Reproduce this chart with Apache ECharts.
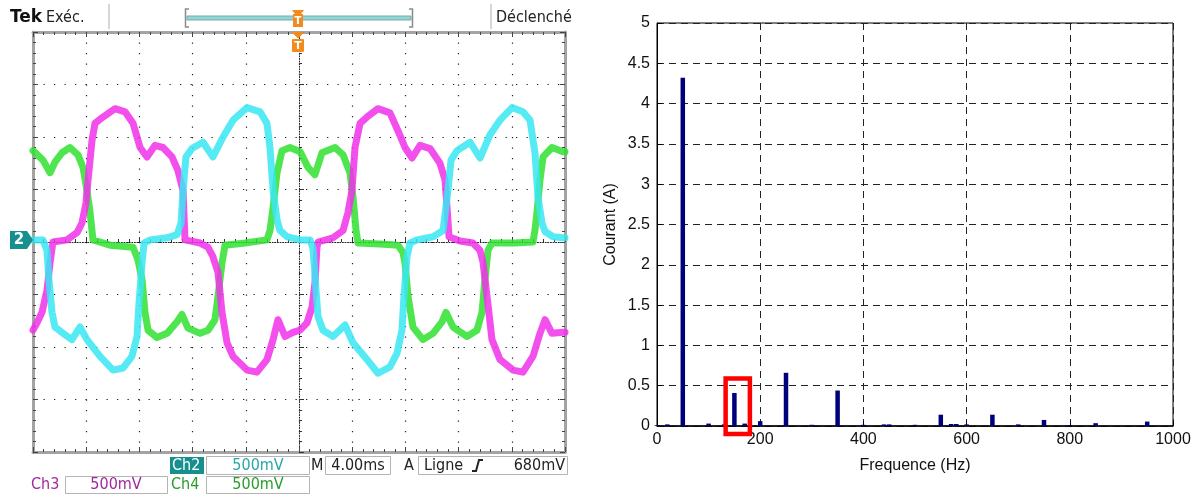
<!DOCTYPE html>
<html>
<head>
<meta charset="utf-8">
<script src="https://cdn.jsdelivr.net/npm/echarts@6/dist/echarts.min.js"></script>
<style>
html,body{margin:0;padding:0;background:#fff;}
#c{width:1202px;height:494px;}
</style>
</head>
<body>
<div id="c"></div>
<script>
// ---------- Oscilloscope traces: [time in ms from left edge of screen, volts] (500 mV/div) ----------
const ch2Cyan = [[0,0.02],[0.75,0.02],[1.05,-0.08],[1.20,-0.36],[1.43,-0.67],[1.65,-0.81],[2.26,-0.87],[2.93,-0.93],[3.53,-0.81],[4.06,-0.93],[5.04,-1.09],[6.02,-1.22],[6.77,-1.20],[7.44,-1.09],[7.82,-0.90],[7.97,-0.58],[8.20,-0.20],[8.35,-0.01],[8.80,0.02],[10.08,0.04],[10.83,0.07],[11.13,0.18],[11.28,0.49],[11.50,0.81],[11.95,0.89],[12.78,0.95],[13.53,0.81],[14.29,1.00],[15.04,1.16],[16.09,1.28],[17.07,1.24],[17.59,1.13],[17.82,0.90],[18.05,0.49],[18.35,0.21],[18.57,0.11],[19.10,0.05],[20.08,0.02],[20.83,0.02],[21.05,-0.06],[21.28,-0.46],[21.43,-0.71],[21.80,-0.84],[22.56,-0.90],[23.46,-0.79],[24.06,-0.96],[25.11,-1.12],[25.94,-1.25],[26.84,-1.19],[27.37,-1.06],[27.74,-0.84],[27.89,-0.52],[28.12,-0.14],[28.35,-0.01],[28.87,0.02],[30.08,0.05],[30.83,0.11],[31.20,0.49],[31.43,0.78],[31.88,0.87],[32.86,0.95],[33.61,0.80],[34.36,1.02],[35.11,1.16],[36.02,1.28],[36.84,1.24],[37.37,1.16],[37.74,0.85],[37.97,0.43],[38.27,0.18],[38.50,0.10],[39.10,0.05],[39.85,0.04],[40,0.04]];
const ch3Magenta = [[0,-0.84],[0.30,-0.77],[0.68,-0.67],[1.05,-0.46],[1.28,-0.20],[1.50,0.00],[2.56,0.02],[3.31,0.09],[3.68,0.18],[3.98,0.37],[4.14,0.59],[4.44,0.97],[4.66,1.13],[5.26,1.19],[6.17,1.27],[6.92,1.24],[7.52,1.13],[8.05,0.90],[8.57,0.81],[9.17,0.92],[9.77,0.90],[10.45,0.81],[10.90,0.68],[11.28,0.49],[11.43,0.02],[12.56,-0.01],[13.16,-0.05],[13.53,-0.14],[13.91,-0.29],[14.21,-0.67],[14.59,-0.96],[15.04,-1.09],[16.09,-1.22],[16.84,-1.24],[17.59,-1.12],[18.05,-0.93],[18.42,-0.74],[18.95,-0.90],[19.55,-0.86],[20.08,-0.84],[20.60,-0.77],[20.98,-0.62],[21.20,-0.39],[21.35,-0.05],[21.43,0.00],[22.56,0.04],[23.31,0.11],[23.68,0.28],[23.98,0.49],[24.21,0.90],[24.59,1.13],[25.11,1.19],[25.94,1.27],[26.84,1.23],[27.44,1.06],[27.97,0.90],[28.50,0.80],[29.10,0.92],[29.85,0.89],[30.60,0.75],[30.98,0.59],[31.13,0.33],[31.28,0.05],[32.11,0.01],[33.08,-0.01],[33.61,-0.08],[33.83,-0.19],[34.14,-0.52],[34.51,-0.93],[35.11,-1.12],[36.09,-1.22],[36.84,-1.24],[37.59,-1.09],[38.12,-0.87],[38.50,-0.74],[39.02,-0.87],[39.85,-0.86],[40,-0.86]];
const ch4Green = [[0,0.87],[0.75,0.78],[1.28,0.66],[1.65,0.76],[2.18,0.85],[2.78,0.90],[3.38,0.83],[3.76,0.71],[4.06,0.49],[4.29,0.28],[4.51,0.02],[5.79,-0.03],[7.52,-0.05],[7.89,-0.17],[8.20,-0.36],[8.42,-0.67],[8.65,-0.84],[9.32,-0.91],[10.08,-0.87],[10.83,-0.76],[11.20,-0.69],[11.65,-0.82],[12.56,-0.87],[13.16,-0.84],[13.68,-0.74],[13.91,-0.52],[14.21,-0.20],[14.44,-0.03],[15.94,-0.01],[17.59,0.02],[17.82,0.11],[18.05,0.33],[18.35,0.66],[18.72,0.87],[19.32,0.90],[20.08,0.86],[20.68,0.71],[21.20,0.64],[21.73,0.85],[22.71,0.90],[23.31,0.83],[23.83,0.66],[24.06,0.43],[24.29,0.11],[24.44,-0.01],[26.09,-0.02],[27.44,-0.03],[27.82,-0.10],[27.97,-0.20],[28.20,-0.52],[28.57,-0.81],[29.32,-0.93],[30.08,-0.87],[30.75,-0.76],[31.05,-0.67],[31.58,-0.81],[32.63,-0.90],[33.38,-0.84],[33.76,-0.67],[33.98,-0.36],[34.21,-0.08],[34.51,-0.01],[36.24,-0.01],[37.59,0.00],[37.74,0.11],[37.89,0.28],[38.12,0.59],[38.35,0.81],[39.02,0.90],[39.85,0.86],[40,0.86]];
const triggerTimeMs = 20; // trigger at the centre of the screen

// ---------- Spectrum ----------
const freqHz = [0, 20, 50, 100, 130, 150, 170, 200, 250, 300, 350, 400, 440, 450, 500, 550, 570, 580, 600, 650, 700, 750, 800, 850, 950];
const currentA = [0.01, 0.02, 4.32, 0.03, 0.02, 0.41, 0.03, 0.06, 0.66, 0.015, 0.44, 0.015, 0.02, 0.02, 0.015, 0.14, 0.025, 0.025, 0.02, 0.14, 0.02, 0.075, 0.01, 0.035, 0.055];
const highlightBox = {f0: 133, f1: 180, a0: -0.10, a1: 0.59};

const chart = echarts.init(document.getElementById('c'), null, {renderer: 'canvas'});

const toScreen = arr => arr.map(p => [p[0] - triggerTimeMs, p[1]]);
const FONT_S = "'Liberation Sans', Arial, sans-serif";
const FONT_T = "'DejaVu Sans Condensed', 'Liberation Sans', sans-serif";

const scopeAxisBase = {
  gridIndex: 0, type: 'value',
  axisLabel: {show: false}
};

function traceSeries(name, data, color) {
  return {
    name, type: 'line', xAxisIndex: 0, yAxisIndex: 0,
    data: toScreen(data), showSymbol: false, symbol: 'none',
    smooth: false, animation: false, z: 5,
    lineStyle: {color, width: 7, opacity: 0.85, cap: 'round', join: 'round'}
  };
}

const option = {
  animation: false,
  backgroundColor: '#fff',
  grid: [
    {left: 33, top: 32, width: 532, height: 420, containLabel: false},
    {left: 657, top: 23, width: 516, height: 403, show: true, borderColor: '#000', borderWidth: 1, backgroundColor: '#fff'}
  ],
  xAxis: [
    Object.assign({}, scopeAxisBase, {
      min: -20, max: 20, interval: 4, position: 'bottom',
      axisLine: {onZero: false, lineStyle: {color: '#a3a3a3', width: 3}},
      axisTick: {show: true, inside: true, length: 5, lineStyle: {color: '#444'}},
      minorTick: {show: true, splitNumber: 5, length: 3, lineStyle: {color: '#444'}},
      splitLine: {show: true, lineStyle: {color: '#222', width: 1.2, type: [1.3, 9.2]}}
    }),
    Object.assign({}, scopeAxisBase, {
      min: -20, max: 20, interval: 4, position: 'top',
      axisLine: {onZero: false, lineStyle: {color: '#a3a3a3', width: 3}},
      axisTick: {show: true, inside: true, length: 5, lineStyle: {color: '#444'}},
      minorTick: {show: true, splitNumber: 5, length: 3, lineStyle: {color: '#444'}},
      splitLine: {show: false}
    }),
    Object.assign({}, scopeAxisBase, {
      min: -20, max: 20, interval: 4, position: 'bottom',
      axisLine: {onZero: true, onZeroAxisIndex: 0, lineStyle: {color: '#222', width: 1, type: [1, 1.6]}},
      axisTick: {show: true, inside: true, length: 5, lineStyle: {color: '#333'}},
      minorTick: {show: true, splitNumber: 5, length: 3, lineStyle: {color: '#333'}},
      splitLine: {show: false}
    }),
    {
      gridIndex: 1, type: 'value', min: 0, max: 1000, interval: 200, position: 'bottom',
      axisLine: {onZero: false, lineStyle: {color: '#000', width: 1.5}},
      axisTick: {show: true, inside: true, length: 5, lineStyle: {color: '#000'}},
      axisLabel: {color: '#111', fontSize: 16, fontFamily: FONT_S, margin: 6, formatter: v => String(v)},
      splitLine: {show: true, lineStyle: {color: '#222', width: 1, type: [7, 5]}},
      name: 'Frequence (Hz)', nameLocation: 'middle', nameGap: 32,
      nameTextStyle: {color: '#111', fontSize: 16, fontFamily: FONT_S}
    }
  ],
  yAxis: [
    Object.assign({}, scopeAxisBase, {
      min: -2, max: 2, interval: 0.5, position: 'left',
      axisLine: {onZero: false, lineStyle: {color: '#a3a3a3', width: 3}},
      axisTick: {show: true, inside: true, length: 5, lineStyle: {color: '#444'}},
      minorTick: {show: true, splitNumber: 5, length: 3, lineStyle: {color: '#444'}},
      splitLine: {show: true, lineStyle: {color: '#222', width: 1.2, type: [1.3, 9.2]}}
    }),
    Object.assign({}, scopeAxisBase, {
      min: -2, max: 2, interval: 0.5, position: 'right',
      axisLine: {onZero: false, lineStyle: {color: '#a3a3a3', width: 3}},
      axisTick: {show: true, inside: true, length: 5, lineStyle: {color: '#444'}},
      minorTick: {show: true, splitNumber: 5, length: 3, lineStyle: {color: '#444'}},
      splitLine: {show: false}
    }),
    Object.assign({}, scopeAxisBase, {
      min: -2, max: 2, interval: 0.5, position: 'left',
      axisLine: {onZero: true, onZeroAxisIndex: 0, lineStyle: {color: '#222', width: 1, type: [1, 1.6]}},
      axisTick: {show: true, inside: true, length: 5, lineStyle: {color: '#333'}},
      minorTick: {show: true, splitNumber: 5, length: 3, lineStyle: {color: '#333'}},
      splitLine: {show: false}
    }),
    {
      gridIndex: 1, type: 'value', min: 0, max: 5, interval: 0.5, position: 'left',
      axisLine: {onZero: false, lineStyle: {color: '#000', width: 1}},
      axisTick: {show: true, inside: true, length: 5, lineStyle: {color: '#000'}},
      axisLabel: {color: '#111', fontSize: 16, fontFamily: FONT_S, margin: 7},
      splitLine: {show: true, lineStyle: {color: '#222', width: 1, type: [7, 5]}},
      name: 'Courant (A)', nameLocation: 'middle', nameGap: 38,
      nameTextStyle: {color: '#111', fontSize: 16, fontFamily: FONT_S}
    }
  ],
  series: [
    traceSeries('Ch4', ch4Green, '#30e030'),
    traceSeries('Ch3', ch3Magenta, '#f030ea'),
    traceSeries('Ch2', ch2Cyan, '#38e8f2'),
    {
      name: 'Spectre', type: 'bar', xAxisIndex: 3, yAxisIndex: 3,
      data: freqHz.map((f, i) => [f, currentA[i]]),
      barWidth: 4.5, itemStyle: {color: '#00007a'}, z: 3
    }
  ]
};

chart.setOption(option);

// ---------- decorations (screen furniture) ----------
const pA = chart.convertToPixel({gridIndex: 1}, [highlightBox.f0, highlightBox.a1]);
const pB = chart.convertToPixel({gridIndex: 1}, [highlightBox.f1, highlightBox.a0]);

function txt(x, y, text, font, fill, align) {
  return {type: 'text', z: 50, style: {x, y, text, font, fill: fill || '#222', textAlign: align || 'left', textVerticalAlign: 'middle', verticalAlign: 'middle'}};
}
function box(x, y, w, h, fill, stroke) {
  return {type: 'rect', z: 40, shape: {x, y, width: w, height: h}, style: {fill: fill || 'none', stroke: stroke || 'none', lineWidth: 1}};
}
const orange = '#f28a1e';
const teal = '#178f8f';
const graphics = [
  // header
  txt(10, 18, 'Tek', "bold 17px 'DejaVu Sans', sans-serif", '#111'),
  txt(46, 18, 'Exéc.', '16px ' + FONT_T, '#222'),
  {type: 'line', z: 40, shape: {x1: 109, y1: 4, x2: 109, y2: 29}, style: {stroke: '#c8c8c8', lineWidth: 1.5}},
  {type: 'line', z: 40, shape: {x1: 491, y1: 4, x2: 491, y2: 29}, style: {stroke: '#c8c8c8', lineWidth: 1.5}},
  txt(496, 18, 'Déclenché', '16px ' + FONT_T, '#222'),
  // record position bar
  {type: 'rect', z: 40, shape: {x: 187, y: 16, width: 224, height: 4}, style: {fill: '#8fd6d6', stroke: '#7aa9a9', lineWidth: 1}},
  {type: 'polyline', z: 41, shape: {points: [[189, 9], [185.5, 9], [185.5, 27], [189, 27]]}, style: {stroke: '#8a8a8a', lineWidth: 1.5, fill: 'none'}},
  {type: 'polyline', z: 41, shape: {points: [[409, 9], [412.5, 9], [412.5, 27], [409, 27]]}, style: {stroke: '#8a8a8a', lineWidth: 1.5, fill: 'none'}},
  {type: 'polygon', z: 42, shape: {points: [[292, 10], [304, 10], [301, 14], [295, 14]]}, style: {fill: orange}},
  {type: 'rect', z: 42, shape: {x: 293, y: 14, width: 10, height: 13}, style: {fill: orange}},
  txt(298, 21, 'T', "bold 10px 'DejaVu Sans', sans-serif", '#fff', 'center'),
  // trigger marker under the top edge
  {type: 'polygon', z: 42, shape: {points: [[291.5, 32], [304.5, 32], [298, 38.5]]}, style: {fill: orange}},
  {type: 'rect', z: 42, shape: {x: 292, y: 39, width: 12, height: 13, r: 1}, style: {fill: orange}},
  txt(298, 46, 'T', "bold 11px 'DejaVu Sans', sans-serif", '#fff', 'center'),
  // channel 2 ground marker
  {type: 'polygon', z: 42, shape: {points: [[10, 231], [27, 231], [33, 240], [27, 249], [10, 249]]}, style: {fill: teal}},
  txt(19, 240, '2', "bold 15px 'DejaVu Sans', sans-serif", '#fff', 'center'),
  // footer row 1
  box(170, 457, 34, 17, teal),
  txt(172, 465.5, 'Ch2', '16px ' + FONT_T, '#fff'),
  box(206.5, 456.5, 103, 18, null, '#b4b4b4'),
  txt(258, 465.5, '500mV', '16px ' + FONT_T, '#2aa6a8', 'center'),
  txt(311, 465.5, 'M', '16px ' + FONT_T, '#222'),
  box(325.5, 456.5, 65, 18, null, '#b4b4b4'),
  txt(358, 465.5, '4.00ms', '16px ' + FONT_T, '#222', 'center'),
  txt(404, 465.5, 'A', '16px ' + FONT_T, '#222'),
  box(418.5, 456.5, 149, 18, null, '#b4b4b4'),
  txt(424, 465.5, 'Ligne', '16px ' + FONT_T, '#222'),
  {type: 'polyline', z: 45, shape: {points: [[472, 471], [476, 471], [479, 460], [483, 460]]}, style: {stroke: '#222', lineWidth: 2, fill: 'none'}},
  txt(565, 465.5, '680mV', '16px ' + FONT_T, '#222', 'right'),
  // footer row 2
  txt(31, 485, 'Ch3', '16px ' + FONT_T, '#a2289c'),
  box(65.5, 476.5, 102, 17, null, '#b4b4b4'),
  txt(116, 485, '500mV', '16px ' + FONT_T, '#a2289c', 'center'),
  txt(171, 485, 'Ch4', '16px ' + FONT_T, '#2a9c2a'),
  box(206.5, 476.5, 103, 17, null, '#b4b4b4'),
  txt(258, 485, '500mV', '16px ' + FONT_T, '#2a9c2a', 'center'),
  // highlight box on the spectrum
  {type: 'rect', z: 60, shape: {x: pA[0], y: pA[1], width: pB[0] - pA[0], height: pB[1] - pA[1]}, style: {fill: 'none', stroke: '#ff0000', lineWidth: 4.5}}
];
chart.setOption({graphic: graphics});
</script>
</body>
</html>
